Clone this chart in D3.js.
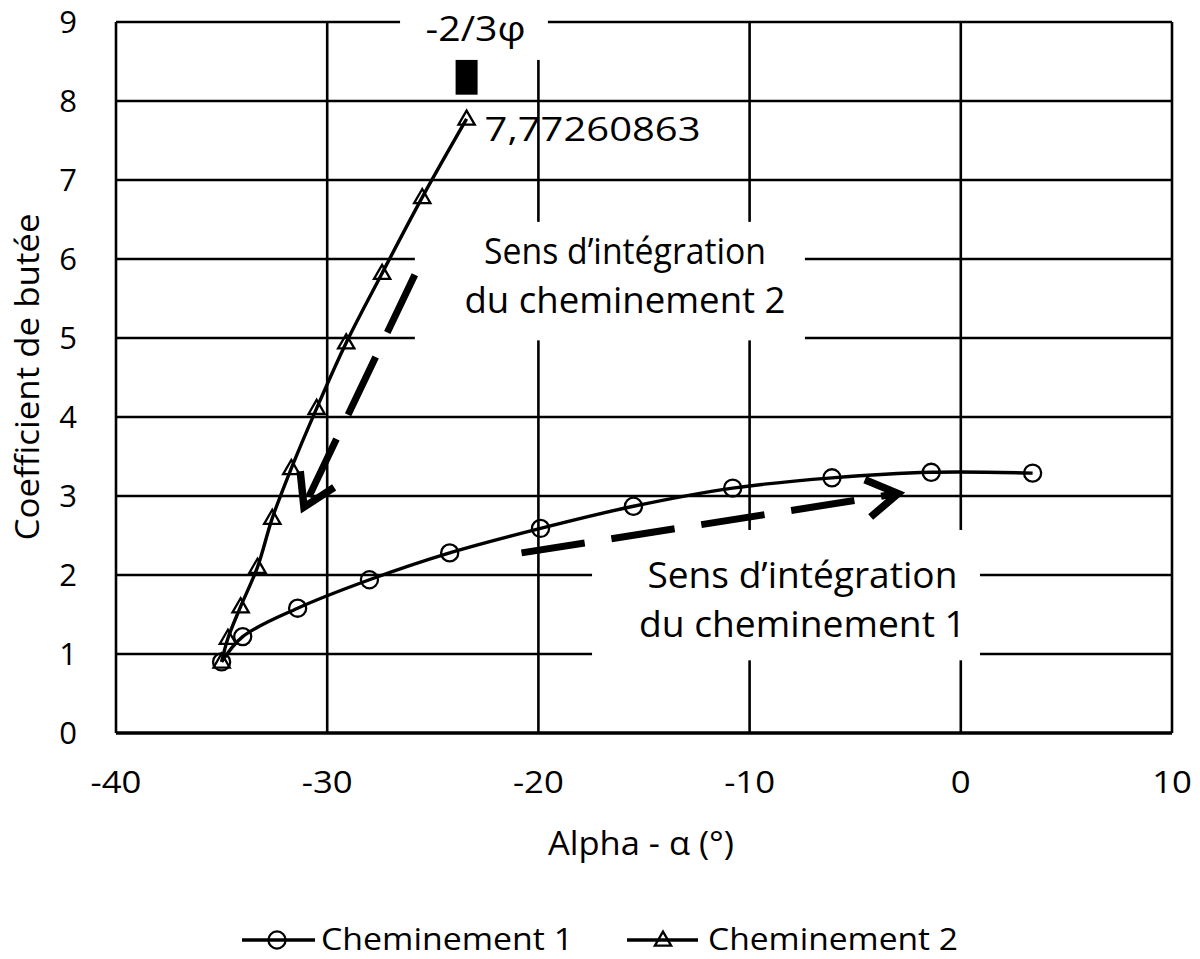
<!DOCTYPE html>
<html><head><meta charset="utf-8">
<script src="https://cdn.jsdelivr.net/npm/d3@7"></script>
<style>
body{margin:0;background:#fff;}
text{font-family:"Open Sans","Noto Sans",sans-serif;fill:#000;}
</style></head>
<body><svg id="c" width="1200" height="959"></svg>
<script>
// ---- data ----
const xTicks = [-40,-30,-20,-10,0,10];
const yTicks = [0,1,2,3,4,5,6,7,8,9];
const c1x = [-35,-34.0,-31.4,-28.0,-24.2,-19.9,-15.5,-10.8,-6.1,-1.4,3.4];
const c1y = [0.9,1.22,1.58,1.94,2.28,2.59,2.87,3.10,3.23,3.30,3.29];
const c2x = [-35,-34.7,-34.1,-33.3,-32.6,-31.7,-30.5,-29.1,-27.4,-25.5,-23.4];
const c2y = [0.9,1.2,1.6,2.1,2.72,3.35,4.11,4.94,5.82,6.78,7.77260863];
const seriesNames = ["Cheminement 1","Cheminement 2"];
const lastLabel = "7,77260863";
const phiLabel = "-2/3φ";
const phiX = -23.4;              // position of -2/3φ marker
const phiBar = [8.08, 8.52];     // marker extent (y)
const arrow1 = [[-20.8,2.28],[-2.97,3.03]];
const arrow2 = [[-25.85,5.80],[-31.1,2.86]];
const note1 = ["Sens d’intégration","du cheminement 1"];
const note2 = ["Sens d’intégration","du cheminement 2"];

const svg = d3.select("#c");
const L=116,R=1172,T=22,B=733;
const x = d3.scaleLinear().domain([-40,10]).range([L,R]);
const y = d3.scaleLinear().domain([0,9]).range([B,T]);

function stretch(sel, f){
  sel.each(function(){
    const w=this.getComputedTextLength();
    d3.select(this).attr("textLength",w*f).attr("lengthAdjust","spacingAndGlyphs");
  });
}
function fitW(sel, w){ sel.attr("textLength",w).attr("lengthAdjust","spacingAndGlyphs"); }

// grid
const g = svg.append("g");
g.selectAll(".h").data(yTicks).join("line")
  .attr("x1",L).attr("x2",R).attr("y1",d=>y(d)).attr("y2",d=>y(d))
  .attr("stroke","#000").attr("stroke-width",d=>d===0?3.5:2.6);
g.selectAll(".v").data(xTicks).join("line")
  .attr("y1",T).attr("y2",B).attr("x1",d=>x(d)).attr("x2",d=>x(d))
  .attr("stroke","#000").attr("stroke-width",2.6);

// white boxes (annotations)
svg.append("rect").attr("x",x(-26.55)).attr("y",0).attr("width",x(-19.55)-x(-26.55)).attr("height",y(8.52)).attr("fill","#fff");
svg.append("rect").attr("x",x(-25.85)).attr("y",y(6.47)).attr("width",x(-7.38)-x(-25.85)).attr("height",y(4.97)-y(6.47)).attr("fill","#fff");
svg.append("rect").attr("x",x(-17.46)).attr("y",y(2.57)).attr("width",x(0.91)-x(-17.46)).attr("height",y(0.92)-y(2.57)).attr("fill","#fff");

// axis labels
svg.append("g").selectAll("text").data(yTicks).join("text")
  .attr("x",77).attr("y",d=>y(d)+11).attr("text-anchor","end")
  .attr("font-size",31).text(d=>d);
svg.append("g").selectAll("text").data(xTicks).join("text")
  .attr("x",d=>x(d)).attr("y",793).attr("text-anchor","middle")
  .attr("font-size",31).text(d=>d).call(stretch,1.12);
svg.append("text").attr("x",641).attr("y",855).attr("text-anchor","middle")
  .attr("font-size",32).text("Alpha - α (°)").call(fitW,186);
svg.append("text").attr("transform","translate(39,377) rotate(-90)")
  .attr("text-anchor","middle").attr("font-size",32).text("Coefficient de butée").call(fitW,327);

// series
const d1 = c1x.map((v,i)=>[v,c1y[i]]);
const d2 = c2x.map((v,i)=>[v,c2y[i]]);
const line = d3.line().x(d=>x(d[0])).y(d=>y(d[1])).curve(d3.curveCatmullRom.alpha(0.5));
svg.append("path").attr("d",line(d1)).attr("fill","none").attr("stroke","#000").attr("stroke-width",3.4);
svg.append("path").attr("d",line(d2)).attr("fill","none").attr("stroke","#000").attr("stroke-width",3.4);
const tri = d3.symbol().type(d3.symbolTriangle).size(115);
const circ = d3.symbol().type(d3.symbolCircle).size(230);
svg.append("g").selectAll("path").data(d1).join("path")
  .attr("d",circ).attr("transform",d=>`translate(${x(d[0])},${y(d[1])})`)
  .attr("fill","none").attr("stroke","#000").attr("stroke-width",2.3);
svg.append("g").selectAll("path").data(d2).join("path")
  .attr("d",tri).attr("transform",d=>`translate(${x(d[0])},${y(d[1])+1})`)
  .attr("fill","none").attr("stroke","#000").attr("stroke-width",2.3);

// last label
svg.append("text").attr("x",x(c2x[c2x.length-1])+18).attr("y",y(c2y[c2y.length-1])+22)
  .attr("font-size",32).text(lastLabel).call(fitW,216);

// -2/3φ
svg.append("rect").attr("x",x(phiX)-11).attr("width",22).attr("y",y(phiBar[1])).attr("height",y(phiBar[0])-y(phiBar[1])).attr("fill","#000");
svg.append("text").attr("x",x(phiX)+9).attr("y",41).attr("text-anchor","middle").attr("font-size",34).text(phiLabel).call(fitW,100);

// notes
function note(lines, cx, cy, w){
  svg.append("text").attr("text-anchor","middle").attr("font-size",36)
   .selectAll("tspan").data(lines).join("tspan").attr("x",x(cx)).attr("y",(d,i)=>y(cy)+i*49)
   .text(d=>d).attr("textLength",(d,i)=>w[i]).attr("lengthAdjust","spacingAndGlyphs");
}
note(note2,-15.9,5.94,[282,321]);
note(note1,-7.5,1.84,[310,327]);

// arrows
function arrow(a){
  const [p,q]=a; const x1=x(p[0]),y1=y(p[1]),x2=x(q[0]),y2=y(q[1]);
  const ang=Math.atan2(y2-y1,x2-x1);
  const back=4;
  svg.append("line").attr("x1",x1).attr("y1",y1).attr("x2",x2-back*Math.cos(ang)).attr("y2",y2-back*Math.sin(ang))
    .attr("stroke","#000").attr("stroke-width",7).attr("stroke-dasharray","64 27");
  const hl=36, ha=0.55;
  const pts=[[x2-hl*Math.cos(ang-ha),y2-hl*Math.sin(ang-ha)],[x2,y2],[x2-hl*Math.cos(ang+ha),y2-hl*Math.sin(ang+ha)]];
  svg.append("path").attr("d",d3.line()(pts)).attr("fill","none").attr("stroke","#000").attr("stroke-width",7.5).attr("stroke-linejoin","miter");
}
arrow(arrow1); arrow(arrow2);

// legend
const lg = svg.append("g");
[[242,315,277,0,321],[627,698,663,1,708]].forEach(([a,b,m,i,tx])=>{
  lg.append("line").attr("x1",a).attr("x2",b).attr("y1",940).attr("y2",940).attr("stroke","#000").attr("stroke-width",3.4);
  lg.append("path").attr("d",i?tri():circ()).attr("transform",`translate(${m},${940+(i?1:0)})`).attr("fill","none").attr("stroke","#000").attr("stroke-width",2.3);
  lg.append("text").attr("x",tx).attr("y",950).attr("font-size",31).text(seriesNames[i]).call(fitW,i?250:252);
});
</script></body></html>
